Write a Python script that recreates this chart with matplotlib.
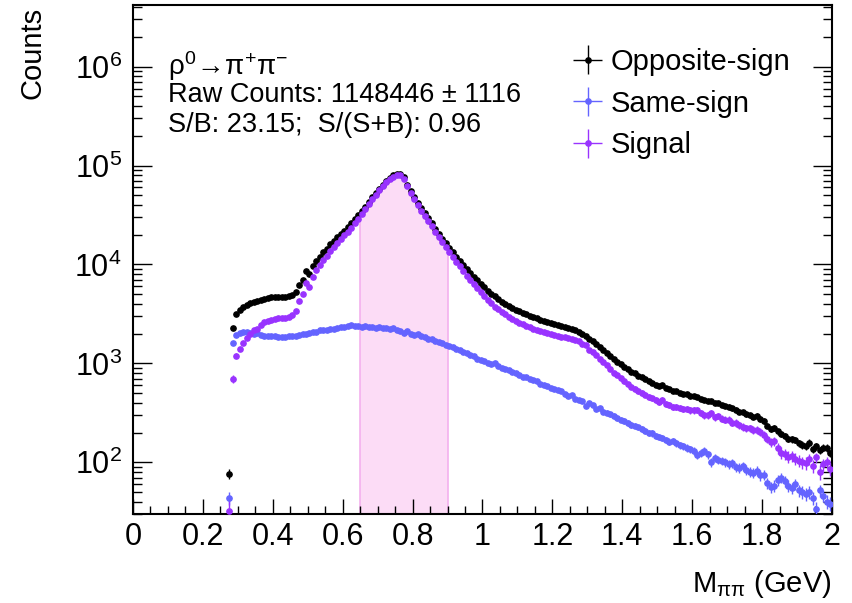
import numpy as np
import matplotlib
matplotlib.use('Agg')
import matplotlib.pyplot as plt
from matplotlib import ticker

plt.rcParams['font.family'] = ['Liberation Sans', 'DejaVu Sans']
plt.rcParams['mathtext.fontset'] = 'custom'
plt.rcParams['mathtext.rm'] = 'Liberation Sans'
plt.rcParams['mathtext.it'] = 'Liberation Sans:italic'
plt.rcParams['mathtext.default'] = 'regular'

# pi+pi- invariant mass, 10 MeV bins from 0.27 to 2.0 GeV (bin centres)
bin_width = 0.01
mass = np.round(0.275 + bin_width * np.arange(173), 3)

opposite_sign = np.array([
    76, 2300, 3150, 3450, 3700, 3900, 4050, 4200, 4300, 4400,
    4500, 4580, 4650, 4700, 4720, 4700, 4720, 4800, 4950, 5300,
    6200, 7000, 8600, 8000, 9600, 10800, 12000, 13300, 14500, 16000,
    17300, 18800, 20300, 22000, 23800, 26000, 28500, 31500, 35000, 38500,
    43000, 48000, 53000, 58500, 64000, 70000, 75500, 79500, 82000, 81500,
    76000, 64000, 55000, 48000, 42000, 37000, 33000, 29500, 26000, 23000,
    20500, 18300, 16500, 14800, 13300, 12000, 10900, 9900, 9000, 8200,
    7500, 6900, 6300, 5850, 5400, 5050, 4750, 4450, 4200, 4000,
    3800, 3650, 3480, 3350, 3230, 3120, 3020, 2920, 2850, 2760,
    2700, 2620, 2560, 2500, 2420, 2380, 2330, 2280, 2250, 2180,
    2100, 2000, 1900, 1780, 1680, 1560, 1450, 1360, 1270, 1180,
    1100, 1040, 980, 920, 870, 820, 790, 750, 720, 690,
    660, 640, 610, 590, 600, 560, 545, 530, 520, 505,
    490, 485, 470, 465, 455, 440, 430, 420, 415, 395,
    400, 380, 370, 365, 350, 340, 325, 320, 305, 300,
    290, 295, 275, 262, 235, 215, 222, 205, 195, 185,
    172, 170, 168, 156, 150, 146, 158, 136, 146, 132,
    141, 140, 123,
], dtype=float)

same_sign = np.array([
    44, 1600, 1950, 2050, 2080, 2100, 2050, 2000, 2050, 1950,
    1900, 1890, 1880, 1870, 1860, 1850, 1860, 1870, 1880, 1900,
    1950, 1980, 2000, 2050, 2080, 2100, 2150, 2180, 2200, 2250,
    2230, 2280, 2320, 2350, 2400, 2420, 2380, 2400, 2350, 2380,
    2340, 2320, 2300, 2330, 2280, 2300, 2250, 2280, 2200, 2120,
    2050, 2120, 2000, 1950, 1960, 1880, 1830, 1780, 1760, 1680,
    1640, 1600, 1520, 1490, 1450, 1400, 1360, 1300, 1270, 1220,
    1180, 1120, 1090, 1060, 1020, 990, 1000, 930, 900, 870,
    860, 820, 790, 770, 735, 720, 690, 675, 660, 620,
    600, 590, 560, 545, 540, 520, 495, 470, 480, 440,
    430, 420, 370, 400, 380, 345, 350, 325, 318, 305,
    295, 280, 270, 262, 250, 240, 235, 225, 218, 208,
    200, 196, 185, 180, 176, 168, 162, 165, 155, 148,
    145, 140, 135, 130, 118, 125, 130, 120, 100, 110,
    106, 104, 100, 96, 98, 90, 88, 92, 84, 80,
    78, 82, 74, 75, 62, 56, 58, 66, 70, 64,
    58, 55, 60, 52, 50, 48, 50, 44, 34, 52,
    46, 40, 38,
], dtype=float)

signal = np.array([
    32, 700, 1200, 1400, 1620, 1800, 2000, 2200, 2250, 2450,
    2600, 2690, 2770, 2830, 2860, 2850, 2860, 2930, 3070, 3400,
    4250, 5020, 6500, 5950, 7520, 8700, 9850, 11120, 12300, 13750,
    15070, 16520, 17980, 19650, 21400, 23580, 26120, 29100, 32650, 36120,
    40660, 45680, 50700, 56170, 61720, 67700, 73250, 77220, 79800, 79380,
    73950, 61880, 53000, 46050, 40040, 35120, 31170, 27720, 24240, 21320,
    18860, 16700, 14980, 13310, 11850, 10600, 9540, 8600, 7730, 6980,
    6320, 5780, 5210, 4790, 4380, 4060, 3750, 3520, 3300, 3130,
    2940, 2830, 2690, 2580, 2495, 2400, 2330, 2245, 2190, 2140,
    2100, 2030, 2000, 1955, 1880, 1860, 1835, 1810, 1770, 1740,
    1670, 1580, 1530, 1380, 1300, 1215, 1100, 1035, 952, 875,
    805, 760, 710, 658, 620, 580, 555, 525, 502, 482,
    460, 444, 425, 410, 424, 392, 383, 365, 365, 357,
    345, 345, 335, 335, 337, 315, 300, 300, 315, 285,
    294, 276, 270, 269, 252, 250, 237, 228, 221, 220,
    212, 213, 201, 187, 173, 159, 164, 139, 125, 121,
    114, 115, 108, 104, 100, 98, 108, 92, 112, 80,
    95, 100, 85,
], dtype=float)

# signal integration window
window = (0.65, 0.90)

xtick_vals = [0, 0.2, 0.4, 0.6, 0.8, 1.0, 1.2, 1.4, 1.6, 1.8, 2.0]
xtick_labels = ['0', '0.2', '0.4', '0.6', '0.8', '1', '1.2', '1.4', '1.6', '1.8', '2']

fig = plt.figure(figsize=(8.53, 6.03), dpi=100)
ax = fig.add_axes([133 / 853, 1 - 514 / 603, (832 - 133) / 853, (514 - 5) / 603])

# shaded window under the signal
in_win = (mass > window[0]) & (mass < window[1])
edges = np.append(mass[in_win] - bin_width / 2, mass[in_win][-1] + bin_width / 2)
ax.stairs(signal[in_win], edges, baseline=1, fill=True, color='#fcdcf6', zorder=1)
ax.vlines(window, 1, [signal[in_win][0], signal[in_win][-1]], color='#f4b0ee', lw=1.2, zorder=1)

kw = dict(fmt='o', ms=3.8, elinewidth=1.0, capsize=0, xerr=bin_width / 2, zorder=3)
ax.errorbar(mass, opposite_sign, yerr=np.sqrt(opposite_sign), color='black',
            label='Opposite-sign', **kw)
ax.errorbar(mass, same_sign, yerr=np.sqrt(same_sign), color='#6464ff',
            label='Same-sign', **kw)
ax.errorbar(mass, signal, yerr=np.sqrt(opposite_sign + same_sign), color='#9933ff',
            label='Signal', **kw)

ax.set_yscale('log')
ax.set_xlim(0, 2)
ax.set_ylim(30, 4.2e6)

ax.set_xticks(xtick_vals)
ax.set_xticklabels(xtick_labels)
ax.xaxis.set_minor_locator(ticker.MultipleLocator(0.05))
ax.yaxis.set_major_locator(ticker.LogLocator(base=10, numticks=10))
ax.yaxis.set_minor_locator(ticker.LogLocator(base=10, subs=np.arange(2, 10), numticks=20))
ax.yaxis.set_minor_formatter(ticker.NullFormatter())

ax.tick_params(which='both', direction='in', right=True, top=False, labelsize=22, width=1.0)
ax.xaxis.set_tick_params(which='major', length=11, pad=6)
ax.xaxis.set_tick_params(which='minor', length=5.5)
ax.yaxis.set_tick_params(which='major', length=14, pad=8)
ax.yaxis.set_tick_params(which='minor', length=6.5)
for s in ax.spines.values():
    s.set_linewidth(1.5)

ax.set_ylabel('Counts', fontsize=21, loc='top')
ax.yaxis.set_label_coords((47 - 133) / 699, (514 - 7) / 509)
ax.set_xlabel(r'M$_{\pi\pi}$ (GeV)', fontsize=21, loc='right')
ax.xaxis.set_label_coords(1.0, (514 - 568) / 509)

fig.text(168 / 853, 1 - 75 / 603, r'$\rho^{0}\!\rightarrow\!\pi^{+}\pi^{-}$',
         fontsize=20, va='baseline', math_fontfamily='stix')
fig.text(168 / 853, 1 - 102 / 603, 'Raw Counts: 1148446 \u00b1 1116', fontsize=19.5, va='baseline')
fig.text(168 / 853, 1 - 132 / 603, 'S/B: 23.15;  S/(S+B): 0.96', fontsize=19.5, va='baseline')

ax.legend(loc='upper left', bbox_to_anchor=(573 / 853, 1 - 48 / 603),
          bbox_transform=fig.transFigure, frameon=False, fontsize=21,
          handlelength=1.0, handletextpad=0.3, labelspacing=0.47,
          borderpad=0, borderaxespad=0)

fig.savefig('out.png', dpi=100)
